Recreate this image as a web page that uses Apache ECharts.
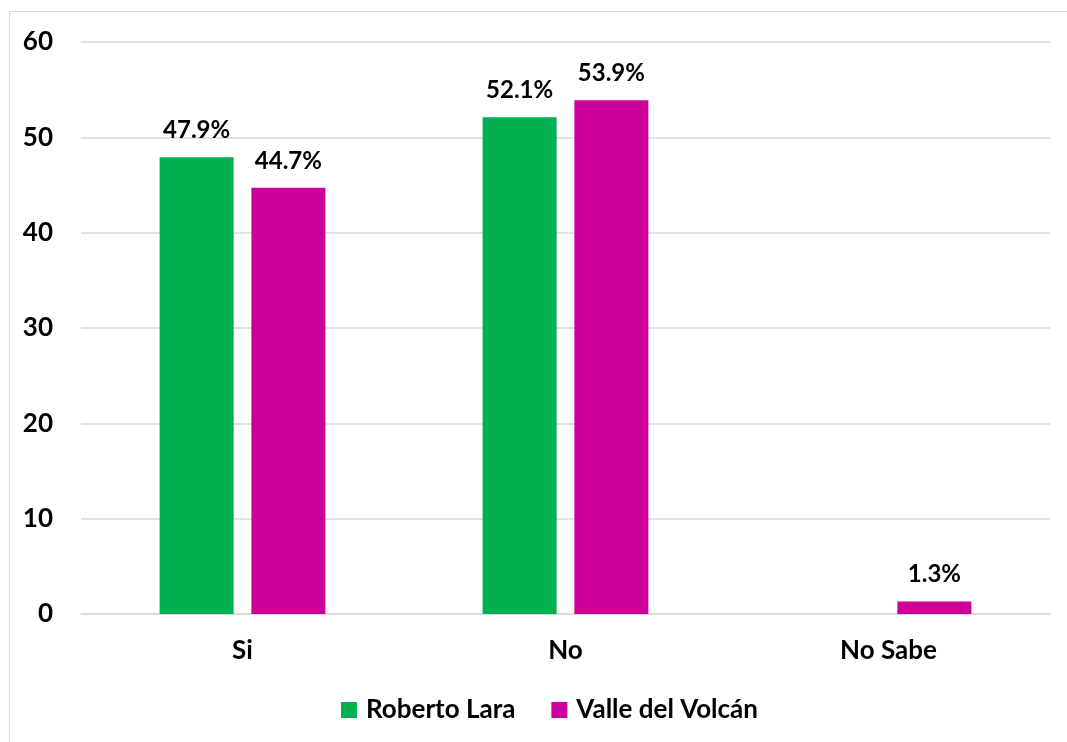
<!DOCTYPE html>
<html>
<head>
<meta charset="utf-8">
<script src="https://cdn.jsdelivr.net/npm/echarts@6/dist/echarts.min.js"></script>
<style>
    html, body { margin: 0; padding: 0; background: #fff; }
    #frame { position: absolute; left: 9px; top: 11px; width: 1070px; height: 740px; border: 1px solid #d9d9d9; }
    #chart { width: 1067px; height: 742px; position: absolute; left: 0; top: 0; }
</style>
</head>
<body>
<div id="frame"></div>
<div id="chart"></div>
<script>
    const categories = ["Si", "No", "No Sabe"];
    const robertoLara = [47.9, 52.1, null];
    const valleVolcan = [44.7, 53.9, 1.3];
    const yTicks = { min: 0, max: 60, interval: 10 };

    const font = "Lato, 'Open Sans', sans-serif";
    let chart = echarts.init(document.getElementById("chart"), null, { renderer: "canvas" });

    let label = {
        show: true,
        position: "top",
        distance: 15,
        color: "#000",
        fontFamily: font,
        fontWeight: "bold",
        fontSize: 24,
        formatter: (p) => p.value.toFixed(1) + "%"
    };

    let option = {
        animation: false,
        grid: { left: 81, right: 17, top: 42, bottom: 128 },
        legend: {
            bottom: 14,
            left: 336,
            itemWidth: 16,
            itemHeight: 16,
            itemGap: 36,
            icon: "rect",
            textStyle: { color: "#000", fontFamily: font, fontWeight: "bold", fontSize: 26, padding: [0, 0, 0, 4] },
            data: ["Roberto Lara", "Valle del Volcán"]
        },
        xAxis: {
            type: "category",
            data: categories,
            axisLine: { lineStyle: { color: "#d9d9d9", width: 1.5 } },
            axisTick: { show: false },
            axisLabel: { color: "#000", fontFamily: font, fontWeight: "bold", fontSize: 26, margin: 24 }
        },
        yAxis: {
            type: "value",
            min: yTicks.min,
            max: yTicks.max,
            interval: yTicks.interval,
            axisLine: { show: false },
            axisTick: { show: false },
            splitLine: { lineStyle: { color: "#d9d9d9", width: 1.5 } },
            axisLabel: { color: "#000", fontFamily: font, fontWeight: "bold", fontSize: 26, margin: 28 }
        },
        series: [
            {
                name: "Roberto Lara",
                type: "bar",
                data: robertoLara,
                barWidth: 74,
                barGap: "24%",
                itemStyle: { color: "#00b050" },
                label: label
            },
            {
                name: "Valle del Volcán",
                type: "bar",
                data: valleVolcan,
                barWidth: 74,
                barGap: "24%",
                itemStyle: { color: "#cc0099" },
                label: label
            }
        ]
    };

    chart.setOption(option);
</script>
</body>
</html>
